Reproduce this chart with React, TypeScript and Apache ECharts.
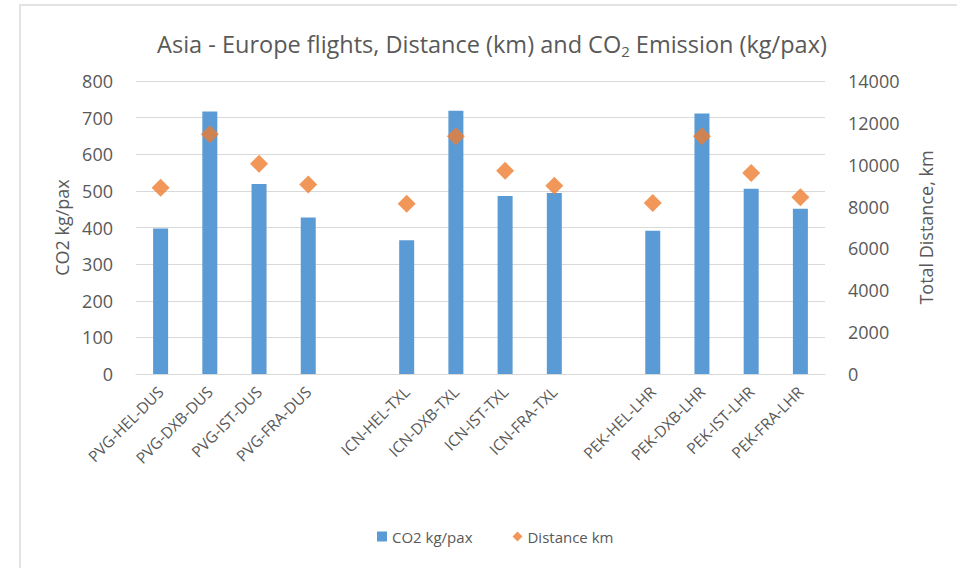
import React, { useEffect, useRef } from "react";
import * as echarts from "echarts";

const categories = [
  "PVG-HEL-DUS", "PVG-DXB-DUS", "PVG-IST-DUS", "PVG-FRA-DUS", "",
  "ICN-HEL-TXL", "ICN-DXB-TXL", "ICN-IST-TXL", "ICN-FRA-TXL", " ",
  "PEK-HEL-LHR", "PEK-DXB-LHR", "PEK-IST-LHR", "PEK-FRA-LHR",
];
const co2Values = [397, 717, 519, 427, null, 365, 719, 486, 494, null, 391, 711, 506, 451];
const distanceValues = [8900, 11450, 10050, 9060, null, 8140, 11360, 9710, 9000, null, 8170, 11360, 9600, 8440];
const leftTicks = { min: 0, max: 800, interval: 100 };
const rightTicks = { min: 0, max: 14000, interval: 2000 };

const FONT = "'Open Sans', 'Noto Sans', sans-serif";
const GREY_TEXT = "#595959";
const BLUE = "#5B9BD5";
const ORANGE = "#ED7D31";

export default function App() {
  const ref = useRef<HTMLDivElement>(null);
  useEffect(() => {
    if (!ref.current) return;
    const chart = echarts.init(ref.current, null, { renderer: "svg" });
    chart.setOption({
      animation: false,
      backgroundColor: "#ffffff",
      textStyle: { fontFamily: FONT },
      title: {
        text: "Asia - Europe flights, Distance (km) and CO{sub|2} Emission (kg/pax)",
        left: 487,
        top: 24,
        textAlign: "center",
        textStyle: {
          fontFamily: FONT,
          fontSize: 23.5,
          fontWeight: "normal",
          color: GREY_TEXT,
          rich: {
            sub: { fontFamily: FONT, fontSize: 15, color: GREY_TEXT, verticalAlign: "bottom", padding: [14, 0, 0, 0] },
          },
        },
      },
      graphic: [
        {
          type: "rect",
          shape: { x: 20, y: 5, width: 960, height: 600 },
          style: { fill: "none", stroke: "#e3e3e3", lineWidth: 2 },
          silent: true,
          z: -1,
        },
      ],
      legend: {
        left: 372,
        top: 524,
        itemGap: 40,
        itemWidth: 10,
        itemHeight: 10,
        textStyle: { fontFamily: FONT, fontSize: 15, color: GREY_TEXT },
        data: [
          { name: "CO2 kg/pax", icon: "rect" },
          { name: "Distance km", icon: "diamond" },
        ],
      },
      grid: { left: 136, right: 132, top: 81, height: 293 },
      xAxis: {
        type: "category",
        data: categories,
        axisLine: { lineStyle: { color: "#d9d9d9" } },
        axisTick: { show: false },
        axisLabel: {
          interval: 0,
          rotate: 45,
          margin: 15,
          fontFamily: FONT,
          fontSize: 15.5,
          color: GREY_TEXT,
        },
      },
      yAxis: [
        {
          type: "value",
          min: leftTicks.min,
          max: leftTicks.max,
          interval: leftTicks.interval,
          name: "CO2 kg/pax",
          nameLocation: "middle",
          nameRotate: 90,
          nameGap: 64,
          nameTextStyle: { fontFamily: FONT, fontSize: 18, color: GREY_TEXT },
          axisLine: { show: false },
          axisTick: { show: false },
          axisLabel: { margin: 23, fontFamily: FONT, fontSize: 18, color: GREY_TEXT },
          splitLine: { lineStyle: { color: "#d9d9d9" } },
        },
        {
          type: "value",
          min: rightTicks.min,
          max: rightTicks.max,
          interval: rightTicks.interval,
          name: "Total Distance, km",
          nameLocation: "middle",
          nameRotate: 90,
          nameGap: 92,
          nameTextStyle: { fontFamily: FONT, fontSize: 18, color: GREY_TEXT },
          axisLine: { show: false },
          axisTick: { show: false },
          axisLabel: {
            margin: 23,
            fontFamily: FONT,
            fontSize: 18,
            color: GREY_TEXT,
            formatter: (v: number) => String(v),
          },
          splitLine: { show: false },
        },
      ],
      series: [
        {
          name: "CO2 kg/pax",
          type: "bar",
          yAxisIndex: 0,
          barWidth: 15,
          itemStyle: { color: BLUE },
          data: co2Values.map((v) => (v === null ? "-" : v)),
        },
        {
          name: "Distance km",
          type: "scatter",
          yAxisIndex: 1,
          symbol: "diamond",
          symbolSize: 18,
          itemStyle: { color: ORANGE },
          data: distanceValues.map((v) => (v === null ? "-" : v)),
        },
      ],
    });
    return () => chart.dispose();
  }, []);
  return (
    <div
      ref={ref}
      style={{ position: "fixed", left: 0, top: 0, width: 957, height: 568 }}
    />
  );
}
